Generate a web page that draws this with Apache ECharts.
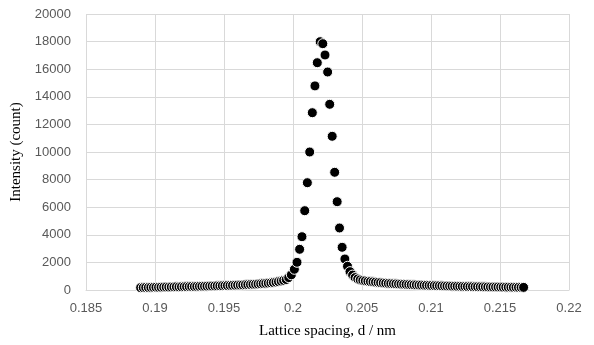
<!doctype html>
<html>
<head>
<meta charset="utf-8" />
<script src="https://cdn.jsdelivr.net/npm/echarts@6/dist/echarts.min.js"></script>
<style>
  html, body { margin: 0; padding: 0; background: #fff; }
  #chart { width: 594px; height: 345px; }
</style>
</head>
<body>
<div id="chart"></div>
<script>
// lattice spacing d (nm) and intensity (count)
const dLeft = [
  0.18896, 0.18915, 0.18933, 0.18952, 0.18970, 0.18989, 0.19007, 0.19026, 0.19044, 0.19063,
  0.19081, 0.19100, 0.19118, 0.19137, 0.19155, 0.19174, 0.19192, 0.19211, 0.19229, 0.19248,
  0.19266, 0.19285, 0.19303, 0.19322, 0.19340, 0.19359, 0.19377, 0.19396, 0.19414, 0.19433,
  0.19451, 0.19470, 0.19488, 0.19507, 0.19525, 0.19544, 0.19562, 0.19581, 0.19599, 0.19618,
  0.19636, 0.19655, 0.19673, 0.19692, 0.19710, 0.19729, 0.19747, 0.19766, 0.19784, 0.19803,
  0.19821, 0.19840, 0.19858, 0.19877, 0.19895, 0.19914, 0.19932, 0.19951, 0.19969, 0.19988,
  0.20010
];
const iLeft = [
  170, 175, 185, 180, 190, 195, 200, 195, 205, 210,
  215, 210, 220, 225, 230, 225, 235, 240, 245, 250,
  255, 250, 260, 265, 270, 275, 280, 285, 290, 295,
  300, 305, 310, 320, 325, 330, 340, 345, 355, 360,
  370, 380, 390, 400, 410, 420, 435, 450, 465, 480,
  500, 520, 545, 575, 610, 650, 700, 760, 900, 1100,
  1500
];

const dPeak = [
  0.20029, 0.20048, 0.20065, 0.20085, 0.20104, 0.20121, 0.20140, 0.20159, 0.20176, 0.20197,
  0.20216, 0.20232, 0.20251, 0.20266, 0.20284, 0.20302, 0.20320, 0.20337, 0.20356, 0.20376,
  0.20395
];
const iPeak = [
  2007, 2949, 3862, 5746, 7775, 10000, 12848, 14790, 16471, 17993,
  17850, 17029, 15797, 13456, 11138, 8529, 6399, 4493, 3094, 2246,
  1720
];

const dRight = [
  0.20413, 0.20432, 0.20450, 0.20469, 0.20487, 0.20506, 0.20524, 0.20543, 0.20561, 0.20580,
  0.20598, 0.20617, 0.20635, 0.20654, 0.20672, 0.20691, 0.20709, 0.20728, 0.20746, 0.20765,
  0.20783, 0.20802, 0.20820, 0.20839, 0.20857, 0.20876, 0.20894, 0.20913, 0.20931, 0.20950,
  0.20968, 0.20987, 0.21005, 0.21024, 0.21042, 0.21061, 0.21079, 0.21098, 0.21116, 0.21135,
  0.21153, 0.21172, 0.21190, 0.21209, 0.21227, 0.21246, 0.21264, 0.21283, 0.21301, 0.21320,
  0.21338, 0.21357, 0.21375, 0.21394, 0.21412, 0.21431, 0.21449, 0.21468, 0.21486, 0.21505,
  0.21523, 0.21542, 0.21560, 0.21579, 0.21597, 0.21616, 0.21634, 0.21653, 0.21671
];
const iRight = [
  1330, 1080, 900, 800, 730, 690, 660, 630, 610, 590,
  570, 550, 530, 510, 495, 480, 470, 455, 445, 435,
  425, 415, 405, 395, 385, 375, 370, 360, 355, 345,
  340, 335, 325, 320, 315, 310, 300, 295, 290, 285,
  280, 275, 270, 265, 260, 255, 250, 248, 245, 240,
  238, 235, 230, 228, 225, 222, 220, 218, 215, 212,
  210, 208, 205, 203, 200, 198, 195, 193, 190
];

const xTicks = [0.185, 0.19, 0.195, 0.2, 0.205, 0.21, 0.215, 0.22];
const yTicks = [0, 2000, 4000, 6000, 8000, 10000, 12000, 14000, 16000, 18000, 20000];

const dAll = dLeft.concat(dPeak, dRight);
const iAll = iLeft.concat(iPeak, iRight);
const points = dAll.map((d, k) => [d, iAll[k]]);

const gridColor = '#d9d9d9';
const labelColor = '#595959';

const chart = echarts.init(document.getElementById('chart'), null, { renderer: 'canvas' });
chart.setOption({
  animation: false,
  backgroundColor: '#fff',
  grid: { left: 86, right: 25, top: 14, bottom: 55 },
  xAxis: {
    type: 'value',
    min: xTicks[0],
    max: xTicks[xTicks.length - 1],
    interval: 0.005,
    name: 'Lattice spacing, d / nm',
    nameLocation: 'middle',
    nameGap: 34,
    nameTextStyle: { fontFamily: 'Liberation Serif', fontSize: 15, color: '#000' },
    axisLine: { show: true, lineStyle: { color: gridColor } },
    axisTick: { show: false },
    axisLabel: {
      margin: 12,
      color: labelColor,
      fontFamily: 'Liberation Sans',
      fontSize: 13,
      formatter: (v) => String(+v.toFixed(3)),
    },
    splitLine: { show: true, lineStyle: { color: gridColor, width: 1 } },
  },
  yAxis: {
    type: 'value',
    min: yTicks[0],
    max: yTicks[yTicks.length - 1],
    interval: 2000,
    name: 'Intensity (count)',
    nameLocation: 'middle',
    nameGap: 50,
    nameTextStyle: { fontFamily: 'Liberation Serif', fontSize: 15, color: '#000' },
    axisLine: { show: false },
    axisTick: { show: false },
    axisLabel: {
      margin: 15,
      color: labelColor,
      fontFamily: 'Liberation Sans',
      fontSize: 13,
      formatter: (v) => String(v),
    },
    splitLine: { show: true, lineStyle: { color: gridColor, width: 1 } },
  },
  series: [
    {
      type: 'scatter',
      data: points,
      symbol: 'circle',
      symbolSize: 10,
      itemStyle: { color: '#000', borderColor: '#fff', borderWidth: 1, opacity: 1 },
      progressive: 0,
      large: false,
    },
  ],
});
</script>
</body>
</html>
